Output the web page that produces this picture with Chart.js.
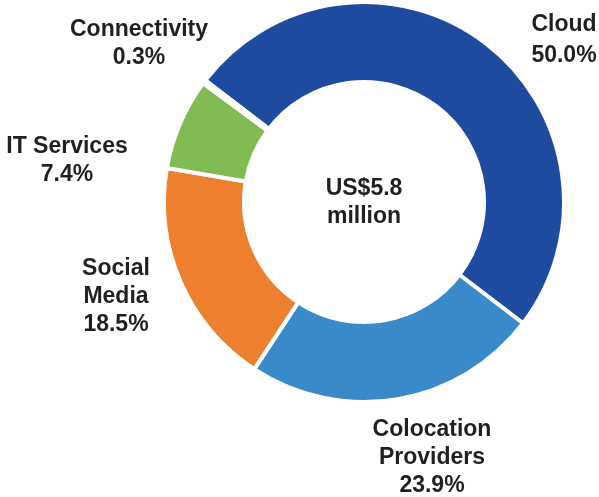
<!DOCTYPE html>
<html>
<head>
<meta charset="utf-8">
<script src="https://cdn.jsdelivr.net/npm/chart.js@4"></script>
<style>
  html, body { margin: 0; padding: 0; background: #fff; }
  #wrap { width: 599px; height: 497px; }
</style>
</head>
<body>
<div id="wrap"><canvas id="myChart" width="599" height="497"></canvas></div>
<script>
// chart data
const categories = ['Cloud', 'Colocation Providers', 'Social Media', 'IT Services', 'Connectivity'];
const shares = [50.0, 23.9, 18.5, 7.4, 0.3];
const colours = ['#1e4ba0', '#3a8ac9', '#ee7f2f', '#82ba53', '#ffffff'];
const centreText = ['US$5.8', 'million'];

// where each outside label goes (centre x, first baseline y)
const labelSpots = [
    { x: 564, y: 31, lines: ['Cloud'] },
    { x: 432, y: 436, lines: ['Colocation', 'Providers'] },
    { x: 116, y: 275, lines: ['Social', 'Media'] },
    { x: 67, y: 153, lines: ['IT Services'] },
    { x: 139, y: 36, lines: ['Connectivity'] }
];

const textPlugin = {
    id: 'textPlugin',
    afterDraw(chart) {
        const ctx = chart.ctx;
        ctx.save();
        ctx.fillStyle = '#231f20';
        ctx.font = 'bold 23px "Liberation Sans", Arial, sans-serif';
        ctx.textAlign = 'center';
        ctx.textBaseline = 'alphabetic';

        labelSpots.forEach((spot, i) => {
            const lines = spot.lines.concat([shares[i].toFixed(1) + '%']);
            const step = i === 0 ? 31 : 28;
            lines.forEach((line, j) => {
                ctx.fillText(line, spot.x, spot.y + j * step);
            });
        });

        const arc = chart.getDatasetMeta(0).data[0];
        centreText.forEach((line, j) => {
            ctx.fillText(line, arc.x, 195 + j * 28);
        });
        ctx.restore();
    }
};

const ctx = document.getElementById('myChart').getContext('2d');
const myChart = new Chart(ctx, {
    type: 'doughnut',
    data: {
        labels: categories,
        datasets: [{
            data: shares,
            backgroundColor: colours,
            borderColor: '#ffffff',
            borderWidth: 4,
            hoverOffset: 0
        }]
    },
    options: {
        responsive: false,
        animation: false,
        rotation: -52.5,
        radius: 200,
        cutout: 120,
        layout: {
            padding: { left: 162, right: 33, top: 0, bottom: 93 }
        },
        plugins: {
            legend: { display: false },
            tooltip: { enabled: false }
        }
    },
    plugins: [textPlugin]
});
</script>
</body>
</html>
